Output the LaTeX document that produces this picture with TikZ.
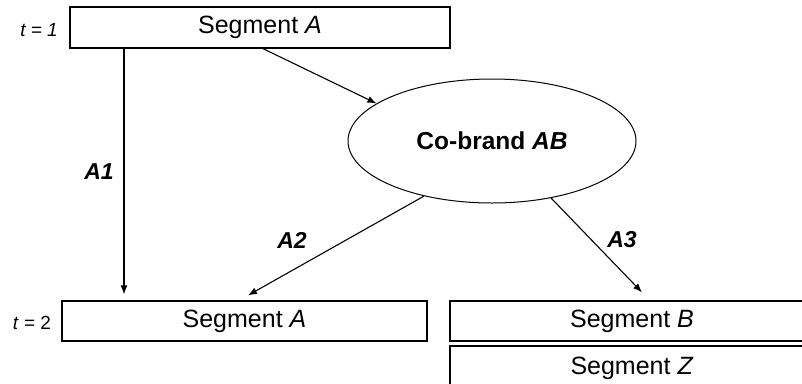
\documentclass[tikz,border=0pt]{standalone}
\usepackage{fontspec}
\setmainfont{Liberation Sans}
\usepackage{tikz}
\usetikzlibrary{shapes, arrows, arrows.meta, positioning}
\tikzstyle{segmento} = [draw, line width=1.3pt, rectangle, inner sep=0pt, minimum height=40pt, font=\fontsize{25}{29}\selectfont]
\tikzstyle{marca} = [draw, line width=1pt, ellipse, inner sep=0pt, minimum width=288pt, minimum height=124pt, font=\fontsize{24.5}{29}\selectfont\bfseries]
\tikzstyle{etiqueta} = [font=\fontsize{23}{27}\selectfont\bfseries\itshape]
\tikzstyle{tiempo} = [font=\fontsize{19}{23}\selectfont]
\tikzstyle{flecha} = [-{Latex[length=9pt, width=7pt]}, line width=1.1pt]

\begin{document}
\begin{tikzpicture}[x=1pt, y=-1pt]
	\clip (0,0) rectangle (802,383);
	% segmentos
	\node[segmento, minimum width=380pt, minimum height=41pt] (segA1) at (260,27.5) {Segment \textit{A}};
	\node[segmento, minimum width=365pt] (segA2) at (244.5,321) {Segment \textit{A}};
	\node[segmento, minimum width=364pt] (segB) at (632,321) {Segment \textit{B}};
	\node[segmento, minimum width=364pt, minimum height=44pt] (segZ) at (632,368) {Segment \textit{Z}};
	\node[marca] (cobrand) at (492,141) {Co-brand \textit{AB}};
	% tiempos
	\node[tiempo] (t1) at (39,30) {\textit{t = 1}};
	\node[tiempo] (t2) at (32,323) {\textit{t} = 2};
	% flechas
	\draw[flecha] ([xshift=-136pt]segA1.south) -- ([xshift=-120.5pt, yshift=6pt]segA2.north);
	\draw[flecha] ([xshift=3pt]segA1.south) -- (cobrand.162);
	\draw[flecha] (cobrand.219) -- ([xshift=3.5pt, yshift=5pt]segA2.north);
	\draw[flecha] (cobrand.316) -- ([xshift=10pt, yshift=8pt]segB.north);
	\node[etiqueta] (lA1) at (99,172) {A1};
	\node[etiqueta] (lA2) at (292,240) {A2};
	\node[etiqueta] (lA3) at (622,240) {A3};
\end{tikzpicture}
\end{document}
